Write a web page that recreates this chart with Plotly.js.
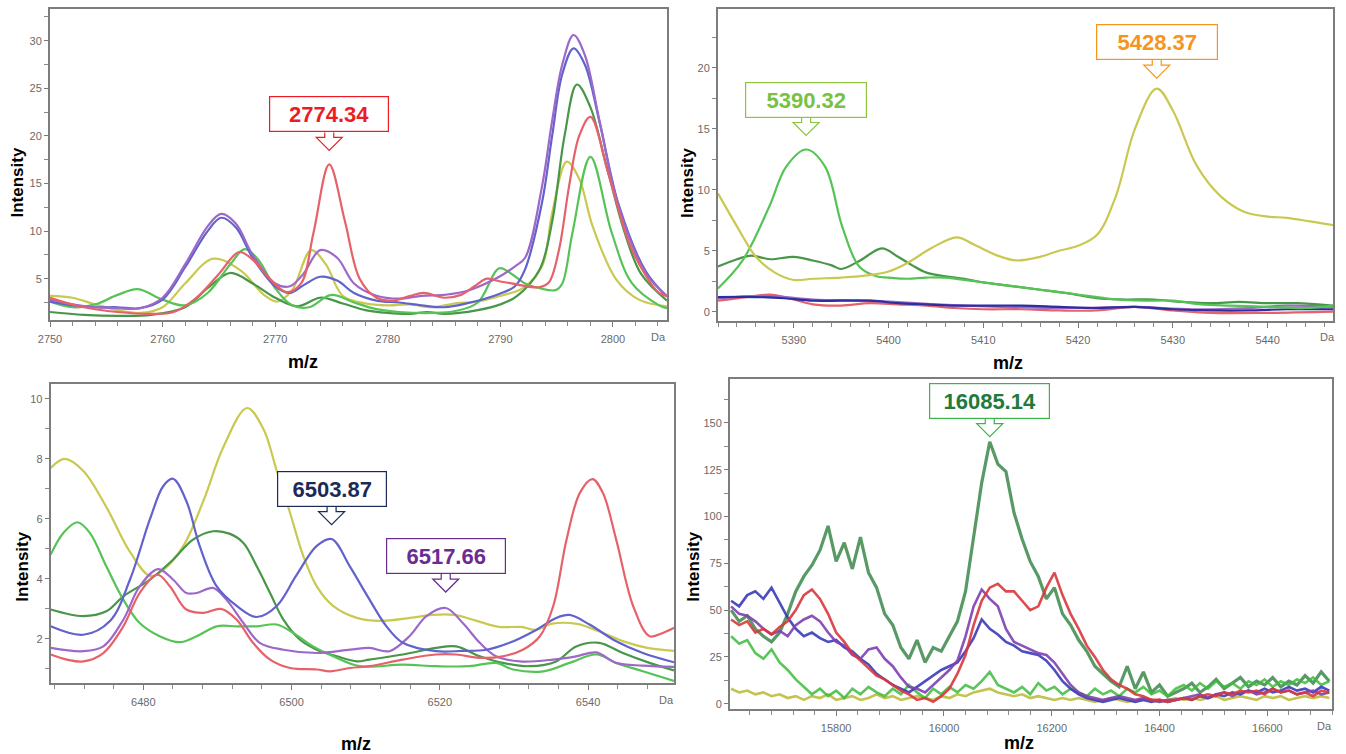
<!DOCTYPE html>
<html>
<head>
<meta charset="utf-8">
<script src="https://cdn.plot.ly/plotly-3.0.1.min.js"></script>
<style>html,body{margin:0;padding:0;background:#fff}#chart{width:1346px;height:754px}</style>
</head>
<body>
<div id="chart"></div>
<script>
// ---------------- Panel 1 (m/z 2750-2805) ----------------
const p1_x_purple = [2750,2752,2754,2756,2758,2760,2762,2764,2765.2,2766.5,2768,2770,2771.3,2772.5,2774,2775.5,2777,2779,2781,2783,2785,2787,2789.9,2791.3,2792.2,2793.7,2794.6,2795.5,2796.5,2797.5,2798.8,2800.5,2802.9,2804.8];
const p1_y_purple = [2.8,2.3,2.0,1.9,1.9,3.0,6.5,10.5,11.8,10.8,7.5,4.5,4.2,5.5,8.0,7.2,4.5,3.2,2.9,3.2,3.3,3.7,5.2,6.3,7.2,14.7,21.6,27.5,30.6,28.5,21.6,12.6,5.6,3.2];
const p1_x_blue = p1_x_purple;
const p1_y_blue = [2.6,2.2,2.0,2.0,1.9,2.8,6.2,10.0,11.4,10.4,7.2,4.2,3.5,4.3,5.2,4.8,3.5,2.7,2.5,2.2,2.0,2.4,3.4,4.2,6.0,13.0,20.0,26.5,29.2,27.5,21.5,12.8,5.8,3.1];
const p1_x_red = [2750,2753,2756,2759,2761,2763,2765,2766.8,2768,2769.5,2771,2772.3,2773.4,2774.8,2776.2,2777.5,2779,2780.5,2782,2783.2,2785,2786.5,2787.7,2788.8,2790,2791,2793.4,2794.3,2795.2,2796.1,2797,2798,2799.6,2801.7,2804.1,2804.8];
const p1_y_red = [3.0,2.0,1.5,1.3,1.5,3.0,5.5,7.8,7.0,5.0,3.6,4.5,9.8,17,11,5,3.0,2.7,3.2,3.5,3.0,3.3,4.2,5.0,4.7,4.5,4.1,4.6,8,14.7,20,22,16,8,3.5,3.2];
const p1_x_yellow = [2750,2752,2754,2756,2758,2760,2762,2764.5,2767,2769,2770.2,2771.5,2773.2,2774.5,2776,2778,2780,2782,2784,2786,2788,2790,2792,2793.7,2794.6,2795.9,2797,2798.2,2800.3,2802.3,2804.8];
const p1_y_yellow = [3.2,3.0,2.3,1.7,1.4,2.0,4.5,7.1,5.8,3.3,2.6,3.8,8.0,6.5,3.2,2.4,2.2,2.3,2.0,2.4,2.6,3.2,4.0,6.3,11.9,17.3,15.5,10.5,4.9,2.8,2.1];
const p1_x_lgreen = [2750,2752,2754,2756,2757.8,2760,2762,2764,2766,2767.3,2768.5,2770,2771.5,2773,2775,2777,2779,2781,2784,2786,2788,2789.9,2791,2792.2,2793.5,2794.9,2795.5,2796.4,2798,2799.9,2801.7,2804.1,2804.8];
const p1_y_lgreen = [2.6,2.0,2.3,3.3,3.9,2.8,2.2,3.5,6.5,8.1,7.0,4.0,2.2,2.0,3.3,2.5,1.8,1.5,1.4,1.6,2.5,6.1,5.5,4.5,4.0,3.8,4.5,9.8,17.8,9.8,4.5,2.2,1.9];
const p1_x_dgreen = [2750,2753,2756,2759,2762,2764,2766,2768,2770,2772,2774,2776,2778,2780,2782,2783.5,2785,2788,2790,2791.5,2793.5,2794.6,2795.7,2796.8,2798,2799.5,2801,2802.5,2804.8];
const p1_y_dgreen = [1.5,1.2,1.1,1.2,2.0,4.0,5.6,4.5,3.0,2.1,3.0,2.4,1.7,1.4,1.3,1.5,1.3,1.7,2.3,3.2,6.0,11,20,25.4,23,16.5,10,5.5,2.7];

// ---------------- Panel 2 (m/z 5382-5447) ----------------
const p2_x_yellow = [5382,5384,5386,5388,5390,5392,5395,5398,5400,5402,5404.5,5407.2,5409,5411.5,5413.5,5416,5418,5420,5422,5424,5426,5428.3,5430,5432.5,5435,5437.5,5440,5442,5444.5,5446.9];
const p2_y_yellow = [9.7,7.0,4.5,3.2,2.6,2.7,2.8,3.0,3.3,4.0,5.2,6.1,5.5,4.6,4.2,4.5,5.0,5.4,6.3,9.5,15,18.3,16.5,12,9.5,8.2,7.8,7.7,7.4,7.1];
const p2_x_lgreen = [5382,5384.6,5387.4,5389.2,5391.3,5393.3,5395.1,5396.9,5398.7,5400,5402,5404,5406,5409,5412,5415,5418,5421,5424,5427,5430,5433,5436,5440,5444,5446.9];
const p2_y_lgreen = [1.9,4.2,8.6,11.9,13.3,11.9,7.0,3.7,2.9,2.8,2.7,2.8,2.8,2.5,2.2,1.9,1.6,1.3,1.0,0.9,0.9,0.6,0.5,0.4,0.3,0.5];
const p2_x_dgreen = [5382,5384,5385.5,5387.5,5390,5392,5394,5395,5397,5399.3,5401,5402.5,5404,5406,5408,5410,5413,5416,5419,5422,5425,5428,5431,5434,5437,5440,5443,5446.9];
const p2_y_dgreen = [3.7,4.3,4.6,4.3,4.5,4.2,3.8,3.5,4.2,5.2,4.5,3.8,3.2,2.9,2.7,2.4,2.1,1.8,1.5,1.1,1.0,1.0,0.8,0.7,0.8,0.7,0.7,0.5];
const p2_x_blue = [5382,5386,5389,5392,5395,5398,5401,5404,5407,5410,5414,5418,5422,5426,5430,5434,5438,5442,5446.9];
const p2_y_blue = [1.2,1.2,1.1,0.9,0.9,0.9,0.7,0.6,0.5,0.5,0.5,0.4,0.3,0.4,0.2,0.1,0.1,0.2,0.2];
const p2_x_purple = [5382,5387,5392,5398,5405,5412,5420,5426,5432,5438,5442,5446.9];
const p2_y_purple = [1.1,1.3,1.0,0.9,0.6,0.4,0.3,0.4,0.2,0.3,0.5,0.4];
const p2_x_red = [5382,5385,5387.5,5389.5,5392,5395,5398,5401,5404,5407,5410,5414,5418,5422,5426,5430,5434,5440,5446.9];
const p2_y_red = [0.9,1.2,1.4,1.1,0.6,0.5,0.7,0.6,0.5,0.3,0.2,0.2,0.1,0.1,0.4,0.1,-0.1,-0.1,0.0];

// ---------------- Panel 3 (m/z 6467-6552) ----------------
const p3_x_yellow = [6467.5,6469.4,6471.9,6475,6478.2,6480.9,6482.7,6485.4,6488.1,6490.8,6494,6496.2,6498,6499.8,6501.6,6503.4,6505.6,6508.8,6512,6516,6519,6522,6525,6528,6531,6533,6535,6538.5,6542,6545,6548,6551.6];
const p3_y_yellow = [7.7,8.0,7.6,6.4,4.9,4.1,4.3,5.1,6.6,8.4,9.7,9.0,7.6,6.2,4.75,3.75,3.1,2.7,2.6,2.7,2.8,2.8,2.6,2.4,2.4,2.3,2.5,2.5,2.2,1.9,1.7,1.6];
const p3_x_blue = [6467.5,6471.9,6475.5,6478.2,6480.9,6482.7,6484,6485.8,6487.6,6489.9,6492.6,6495.3,6498,6500.6,6503.4,6505.4,6507.9,6510.3,6512.8,6515,6519.5,6523,6526.3,6529.4,6533,6535.7,6537.5,6540.2,6543.8,6547.4,6551.6];
const p3_y_blue = [2.42,2.14,2.6,3.98,6.0,7.1,7.34,6.6,5.1,3.75,3.1,2.73,3.1,4.1,5.1,5.33,4.4,3.4,2.42,1.87,1.59,1.6,1.64,1.87,2.3,2.7,2.8,2.48,1.92,1.53,1.22];
const p3_x_red = [6467.5,6469.7,6471.9,6474.6,6477.3,6479.5,6481.9,6483.6,6485.8,6488.1,6490.5,6492.6,6494.8,6497.1,6499.8,6503.4,6505.2,6507.9,6510.5,6515,6519.5,6522.2,6525.4,6528.5,6531.2,6533.5,6535.3,6537.1,6538.9,6540.6,6542,6543.8,6546.1,6548.3,6550.1,6551.6];
const p3_y_red = [1.48,1.31,1.25,1.53,2.42,3.53,4.14,3.75,2.98,2.87,3.0,2.64,1.87,1.31,1.03,0.98,0.92,1.03,1.09,1.31,1.48,1.48,1.37,1.42,1.64,2.09,3.09,5.31,6.87,7.33,6.87,5.31,3.09,2.09,2.2,2.37];
const p3_x_purple = [6467.5,6471.9,6474.6,6477.3,6479.5,6482,6484,6485.8,6487.2,6489.4,6491.2,6493.5,6495.7,6498.9,6503.4,6507.9,6510.5,6513.2,6515.9,6518.2,6520.8,6523.1,6525.4,6527.6,6530.8,6535.3,6538.4,6541.1,6543.8,6547.4,6551.6];
const p3_y_purple = [1.7,1.59,1.75,2.64,3.75,4.33,3.98,3.53,3.53,3.7,3.31,2.53,1.87,1.64,1.53,1.64,1.7,1.59,2.09,2.76,3.03,2.53,1.87,1.42,1.25,1.31,1.42,1.55,1.2,1.11,1.07];
const p3_x_lgreen = [6467.5,6469.2,6471.1,6472.8,6475,6477.3,6479.5,6482.2,6484.9,6487.2,6489.9,6492.6,6495.3,6498,6500.2,6502.9,6505.6,6509.2,6515,6519.5,6524,6527.6,6529.9,6534,6537.5,6541.1,6543.8,6547.4,6551.6];
const p3_y_lgreen = [4.81,5.53,5.89,5.53,4.42,3.31,2.53,2.09,1.89,2.09,2.42,2.42,2.42,2.48,2.2,1.75,1.42,1.09,1.14,1.09,1.09,1.2,0.98,0.92,1.2,1.48,1.2,0.92,0.6];
const p3_x_dgreen = [6467.5,6471.9,6475,6477.3,6480.9,6484,6486.7,6489.4,6491.6,6493.5,6495.3,6497.1,6498.9,6501.1,6503.4,6506.1,6508.8,6510.5,6515,6519.5,6522.2,6525.4,6528.5,6532.1,6535.7,6538.4,6541.5,6544.7,6548.3,6551.6];
const p3_y_dgreen = [2.98,2.76,2.92,3.42,3.98,4.64,5.31,5.59,5.51,5.2,4.42,3.53,2.64,1.98,1.64,1.42,1.25,1.31,1.48,1.7,1.75,1.42,1.2,1.09,1.25,1.75,1.87,1.53,1.2,0.95];

// ---------------- Panel 4 (m/z 15603-16720) ----------------
const p4_x = [15605,15620,15635,15650,15665,15680,15695,15710,15725,15740,
              15755,15770,15785,15800,15815,15830,15845,15860,15875,15890,
              15905,15920,15935,15950,15965,15980,15995,16010,16025,16040,
              16055,16070,16085,16100,16115,16130,16145,16160,16175,16190,
              16205,16220,16235,16250,16265,16280,16295,16310,16325,16340,
              16355,16370,16385,16400,16415,16430,16445,16460,16475,16490,
              16505,16520,16535,16550,16565,16580,16595,16610,16625,16640,
              16655,16670,16685,16700,16715];
const p4_y_dgreen = [50,44,47,40,36,33,38,48,60,68,
                     74,82,95,76,86,72,89,70,62,48,
                     42,30,24,34,22,30,28,36,44,60,
                     88,118,140,128,124,102,88,76,68,56,
                     62,48,42,34,28,20,16,12,9,20,
                     8,17,6,10,4,6,8,11,6,9,
                     13,8,11,14,9,12,10,14,9,12,
                     10,15,11,17,12];
const p4_y_red = [45,42,44,38,40,37,41,44,50,58,
                  61,56,48,38,33,27,23,19,15,13,
                  10,7,5,2,3,1,4,8,16,26,
                  42,55,62,64,60,60,55,50,52,62,
                  70,58,48,40,31,25,18,13,10,8,
                  5,4,2,2,1,2,3,2,4,5,
                  4,6,5,7,6,7,5,8,6,7,
                  5,6,4,7,6];
const p4_y_purple = [52,48,47,44,40,37,39,36,42,45,
                     47,44,38,33,31,26,24,29,30,24,
                     20,14,9,8,6,10,14,18,23,36,
                     52,61,56,52,40,33,31,29,27,26,
                     22,16,10,6,4,3,2,3,4,3,
                     2,3,2,1,2,2,3,4,5,3,
                     5,6,4,6,7,5,6,8,6,7,
                     5,6,7,5,6];
const p4_y_blue = [55,52,58,60,56,62,54,46,40,36,
                   38,35,33,34,30,28,24,21,16,13,
                   10,8,6,9,12,15,18,20,22,28,
                   35,45,40,37,33,31,28,27,26,23,
                   18,12,8,5,3,2,1,2,3,2,
                   1,2,1,2,1,2,3,2,4,3,
                   5,4,6,5,7,6,8,6,7,9,
                   7,8,6,9,7];
const p4_y_lgreen = [36,32,34,27,24,29,22,18,13,9,
                     5,8,4,7,3,8,5,9,6,4,
                     8,5,10,6,3,8,5,9,6,10,
                     8,12,17,10,8,6,9,5,11,7,
                     9,5,8,6,4,8,5,7,4,8,
                     6,9,5,7,4,8,10,7,11,8,
                     12,9,11,8,12,10,13,9,12,10,
                     13,11,14,10,12];
const p4_y_yellow = [8,6,7,5,6,4,5,3,4,2,
                     4,3,5,2,3,4,2,3,5,3,
                     4,2,3,4,3,2,4,3,5,4,
                     6,7,8,6,5,4,5,3,4,3,
                     2,3,2,3,2,1,2,3,2,1,
                     2,3,2,1,2,3,2,3,2,3,
                     4,2,3,4,3,2,4,3,4,2,
                     3,4,3,4,3];

// ---------------- Labels ----------------
const peakLabels = ['2774.34','5390.32','5428.37','6503.87','6517.66','16085.14'];
const xTitle = 'm/z';
const yTitle = 'Intensity';
const unitLabel = 'Da';

// ---------------- Styles ----------------
const C = {
  red:'#e6626a', purple:'#9c68c9', blue:'#6262cc', yellow:'#c9c952', lgreen:'#56c356', dgreen:'#489648',
  blue2:'#2e2e9e',
  red4:'#d8393c', purple4:'#7e40b2', blue4:'#3b3bb8', yellow4:'#bdbd3e', lgreen4:'#3dbb3d', dgreen4:'#3b874a'
};

function tr(x, y, color, xa, ya, opts) {
  opts = opts || {};
  return {
    type:'scatter', mode:'lines', x:x, y:y, xaxis:xa, yaxis:ya, hoverinfo:'skip',
    line:{color:color, width:opts.width || 2.2, shape:opts.shape || 'spline', smoothing:opts.smoothing || 1},
    opacity: opts.opacity || 1
  };
}

const data = [
  tr(p1_x_yellow, p1_y_yellow, C.yellow, 'x', 'y'),
  tr(p1_x_dgreen, p1_y_dgreen, C.dgreen, 'x', 'y'),
  tr(p1_x_lgreen, p1_y_lgreen, C.lgreen, 'x', 'y'),
  tr(p1_x_blue, p1_y_blue, C.blue, 'x', 'y'),
  tr(p1_x_purple, p1_y_purple, C.purple, 'x', 'y'),
  tr(p1_x_red, p1_y_red, C.red, 'x', 'y'),

  tr(p2_x_red, p2_y_red, C.red, 'x2', 'y2'),
  tr(p2_x_purple, p2_y_purple, C.purple, 'x2', 'y2'),
  tr(p2_x_blue, p2_y_blue, C.blue2, 'x2', 'y2'),
  tr(p2_x_dgreen, p2_y_dgreen, C.dgreen, 'x2', 'y2'),
  tr(p2_x_lgreen, p2_y_lgreen, C.lgreen, 'x2', 'y2'),
  tr(p2_x_yellow, p2_y_yellow, C.yellow, 'x2', 'y2'),

  tr(p3_x_yellow, p3_y_yellow, C.yellow, 'x3', 'y3'),
  tr(p3_x_dgreen, p3_y_dgreen, C.dgreen, 'x3', 'y3'),
  tr(p3_x_lgreen, p3_y_lgreen, C.lgreen, 'x3', 'y3'),
  tr(p3_x_purple, p3_y_purple, C.purple, 'x3', 'y3'),
  tr(p3_x_blue, p3_y_blue, C.blue, 'x3', 'y3'),
  tr(p3_x_red, p3_y_red, C.red, 'x3', 'y3'),

  tr(p4_x, p4_y_dgreen, C.dgreen4, 'x4', 'y4', {shape:'linear', width:3.2, opacity:0.85}),
  tr(p4_x, p4_y_yellow, C.yellow4, 'x4', 'y4', {shape:'linear', width:2.6, opacity:0.9}),
  tr(p4_x, p4_y_lgreen, C.lgreen4, 'x4', 'y4', {shape:'linear', width:2.6, opacity:0.85}),
  tr(p4_x, p4_y_blue, C.blue4, 'x4', 'y4', {shape:'linear', width:2.6, opacity:0.9}),
  tr(p4_x, p4_y_purple, C.purple4, 'x4', 'y4', {shape:'linear', width:2.6, opacity:0.9}),
  tr(p4_x, p4_y_red, C.red4, 'x4', 'y4', {shape:'linear', width:2.6, opacity:0.9})
];

function axis(domain, range, dtick, minor, anchor) {
  return {
    domain:domain, range:range, dtick:dtick, tick0:0, anchor:anchor,
    ticks:'outside', ticklen:4, tickwidth:1, tickcolor:'#7a7a7a',
    showline:true, mirror:true, linecolor:'#7d7d7d', linewidth:2,
    showgrid:false, zeroline:false, fixedrange:true,
    exponentformat:'none', separatethousands:false, tickformat:'d',
    tickfont:{family:'Liberation Sans, Arial, sans-serif', size:11, color:'#6a6a6a'},
    minor:{dtick:minor, tick0:0, ticks:'outside', ticklen:4, tickwidth:1, tickcolor:'#8a8a8a', showgrid:false}
  };
}

const W = 1346, H = 754;
const px = v => v / W, py = v => 1 - v / H;

const layout = {
  width:W, height:H, margin:{l:0, r:0, t:0, b:0},
  paper_bgcolor:'#ffffff', plot_bgcolor:'#ffffff', showlegend:false,
  xaxis:  axis([px(50), px(667)], [2750, 2804.8], 10, 2, 'y'),
  yaxis:  axis([py(320), py(9.3)], [0.66, 33.3], 5, 2.5, 'x'),
  xaxis2: axis([px(718), px(1333)], [5382, 5446.9], 10, 2, 'y2'),
  yaxis2: axis([py(320.7), py(9.3)], [-0.74, 24.8], 5, 2.5, 'x2'),
  xaxis3: axis([px(50.7), px(674)], [6467.5, 6551.6], 20, 4, 'y3'),
  yaxis3: axis([py(683), py(384)], [0.53, 10.5], 2, 1, 'x3'),
  xaxis4: axis([px(730), px(1332)], [15603, 16720], 200, 40, 'y4'),
  yaxis4: axis([py(709), py(379)], [-2.85, 173.5], 25, 12.5, 'x4'),
  annotations:[], shapes:[]
};
['xaxis','xaxis2','xaxis3','xaxis4'].forEach(k => { layout[k].ticklabelstandoff = 3; layout[k].ticklen = 5; layout[k].minor.ticklen = 4; });

const titleFont = {family:'Liberation Sans, Arial, sans-serif', size:17, color:'#000', weight:'bold'};
function paperText(text, x, y, font, angle) {
  layout.annotations.push({text:text, xref:'paper', yref:'paper', x:px(x), y:py(y), xanchor:'center', yanchor:'middle',
    showarrow:false, font:font, textangle:angle || 0});
}
[[16.5,183],[687,183],[21.7,567],[692.7,567]].forEach(p => paperText('<b>'+yTitle+'</b>', p[0], p[1], titleFont, -90));
[[303,362],[1008,363],[355.6,744],[1018.6,743]].forEach(p => paperText('<b>'+xTitle+'</b>', p[0], p[1], Object.assign({}, titleFont, {size:18})));
const daFont = {family:'Liberation Sans, Arial, sans-serif', size:11, color:'#6a6a6a'};
[[658,337],[1327,337],[666,700],[1324,726]].forEach(p => paperText(unitLabel, p[0], p[1], daFont));

// callouts: label, series x, series y, axis ids, colors, gap (px above peak), box width
const callouts = [
  {label:peakLabels[0], xs:p1_x_red,    ys:p1_y_red,    xa:'x',  ya:'y',  text:'#ed1c24', border:'#ed1c24', gap:14,   w:116},
  {label:peakLabels[1], xs:p2_x_lgreen, ys:p2_y_lgreen, xa:'x2', ya:'y2', text:'#7ac143', border:'#8cc63f', gap:14,   w:118},
  {label:peakLabels[2], xs:p2_x_yellow, ys:p2_y_yellow, xa:'x2', ya:'y2', text:'#f7941d', border:'#f7941d', gap:10.5, w:118},
  {label:peakLabels[3], xs:p3_x_blue,   ys:p3_y_blue,   xa:'x3', ya:'y3', text:'#1b2a57', border:'#1b2a57', gap:14.5, w:106},
  {label:peakLabels[4], xs:p3_x_purple, ys:p3_y_purple, xa:'x3', ya:'y3', text:'#6a2c91', border:'#6a2c91', gap:16,   w:116},
  {label:peakLabels[5], xs:p4_x,        ys:p4_y_dgreen, xa:'x4', ya:'y4', text:'#1e7b3c', border:'#39b54a', gap:5,    w:117}
];
callouts.forEach(c => {
  const target = parseFloat(c.label);
  let bi = -1;
  c.xs.forEach((xv, i) => { if (Math.abs(xv - target) <= 5 && (bi < 0 || c.ys[i] > c.ys[bi])) bi = i; });
  const X = c.xs[bi], Y = c.ys[bi];
  const g = c.gap, top = g + 18, base = g + 13;
  layout.shapes.push({
    type:'path', xref:c.xa, yref:c.ya, xsizemode:'pixel', ysizemode:'pixel', xanchor:X, yanchor:Y,
    path:`M -4.5,${top} L -4.5,${base} L -13,${base} L 0,${g} L 13,${base} L 4.5,${base} L 4.5,${top}`,
    line:{color:c.border, width:1.2}, fillcolor:'#ffffff', layer:'above'
  });
  layout.annotations.push({
    text:'<b>'+c.label+'</b>', xref:c.xa, yref:c.ya, x:X, y:Y, xanchor:'center', yanchor:'bottom',
    yshift:top, showarrow:false, width:c.w, height:32, align:'center', valign:'middle',
    bgcolor:'#ffffff', bordercolor:c.border, borderwidth:1.2, borderpad:1,
    font:{family:'Liberation Sans, Arial, sans-serif', size:22, color:c.text}
  });
});

Plotly.newPlot('chart', data, layout, {staticPlot:true, displayModeBar:false});
</script>
</body>
</html>
